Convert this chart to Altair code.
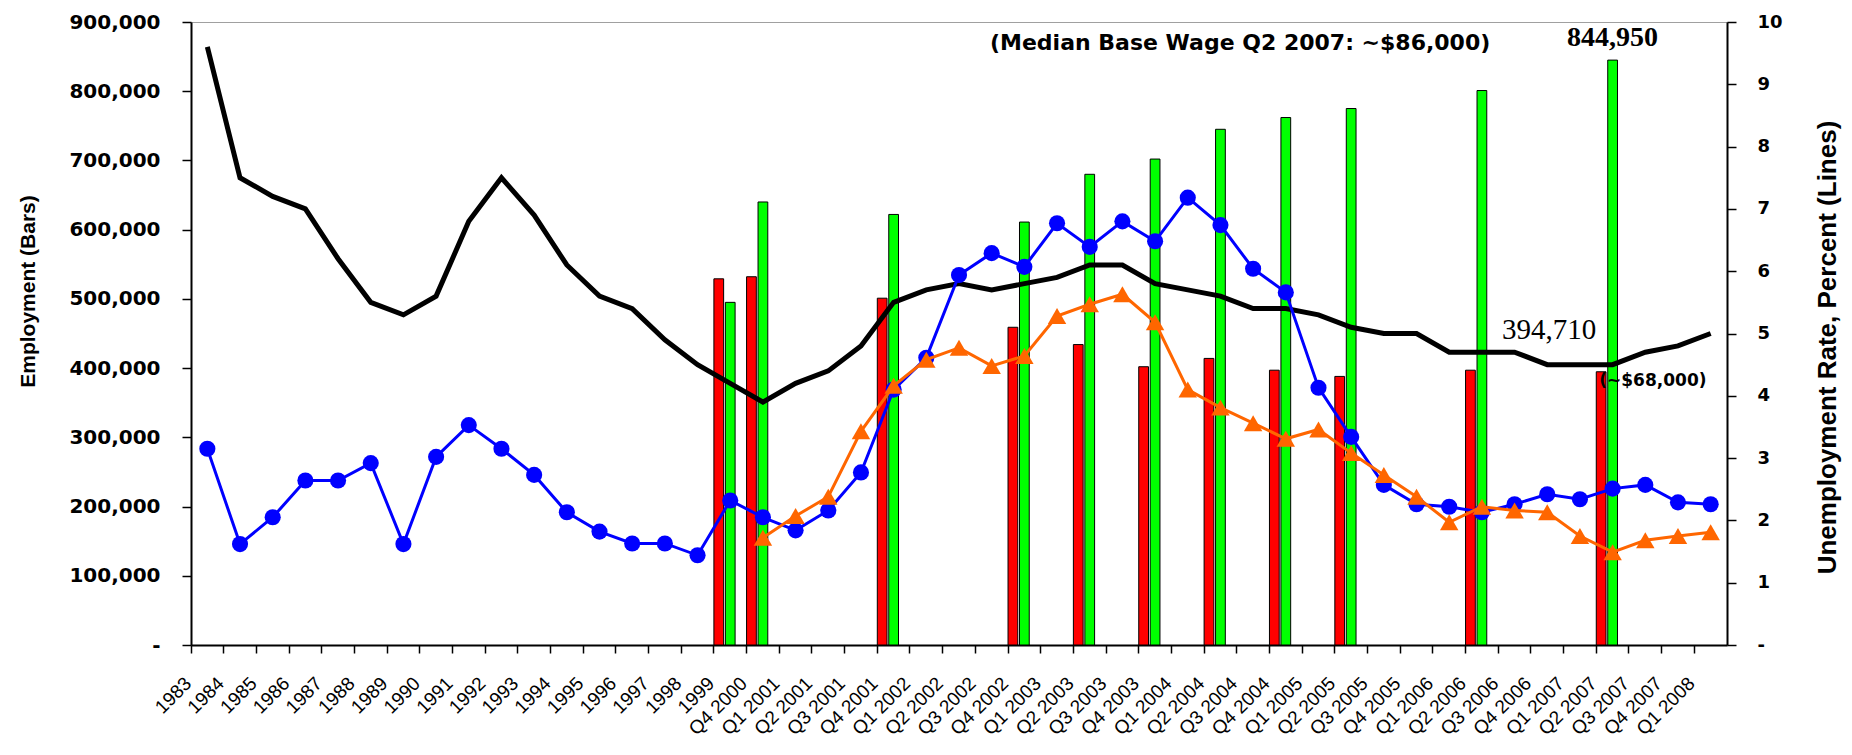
import altair as alt
import pandas as pd

categories = [str(y) for y in range(1983, 2000)] + ["Q4 2000"] + [
    f"Q{q} {y}" for y in range(2001, 2008) for q in range(1, 5)
] + ["Q1 2008"]

black_rate = [9.6, 7.5, 7.2, 7.0, 6.2, 5.5, 5.3, 5.6, 6.8, 7.5, 6.9, 6.1, 5.6, 5.4, 4.9, 4.5, 4.2,
              3.9, 4.2, 4.4, 4.8, 5.5, 5.7, 5.8, 5.7, 5.8, 5.9, 6.1, 6.1, 5.8, 5.7, 5.6, 5.4, 5.4,
              5.3, 5.1, 5.0, 5.0, 4.7, 4.7, 4.7, 4.5, 4.5, 4.5, 4.7, 4.8, 5.0]

blue_rate = [3.15, 1.62, 2.05, 2.64, 2.64, 2.92, 1.62, 3.02, 3.53, 3.15, 2.73, 2.13, 1.82, 1.63,
             1.63, 1.44, 2.32, 2.05, 1.84, 2.16, 2.77, 4.10, 4.61, 5.94, 6.29, 6.07, 6.77, 6.39,
             6.80, 6.48, 7.18, 6.74, 6.04, 5.66, 4.13, 3.34, 2.57, 2.26, 2.22, 2.13, 2.26, 2.42,
             2.34, 2.51, 2.57, 2.29, 2.26]

orange_start = "Q4 2000"
orange_rate = [1.72, 2.07, 2.38, 3.43, 4.16, 4.58, 4.77, 4.48, 4.64, 5.28, 5.47, 5.63, 5.18, 4.10,
               3.81, 3.56, 3.31, 3.46, 3.08, 2.73, 2.38, 1.97, 2.22, 2.16, 2.13, 1.75, 1.49, 1.68,
               1.75, 1.81]

bar_cats = ["1999", "Q4 2000", "Q4 2001", "Q4 2002", "Q2 2003", "Q4 2003", "Q2 2004", "Q4 2004",
            "Q2 2005", "Q2 2006", "Q2 2007"]
red_emp = [529000, 532000, 501000, 459000, 434000, 402000, 414000, 397000, 388000, 397000, 394710]
green_emp = [495000, 640000, 622000, 611000, 680000, 702000, 745000, 762000, 775000, 801000, 844950]

# ---- tables ----
bars = pd.DataFrame(
    [{"cat": c, "series": "red", "value": v} for c, v in zip(bar_cats, red_emp)]
    + [{"cat": c, "series": "green", "value": v} for c, v in zip(bar_cats, green_emp)]
)
black_df = pd.DataFrame({"cat": categories, "rate": black_rate})
blue_df = pd.DataFrame({"cat": categories, "rate": blue_rate})
o0 = categories.index(orange_start)
orange_df = pd.DataFrame({"cat": categories[o0:o0 + len(orange_rate)], "rate": orange_rate})

xscale = alt.Scale(domain=categories, paddingInner=0, paddingOuter=0)
xaxis = alt.Axis(
    title=None, labelAngle=-45, labelAlign="right", labelBaseline="middle",
    labelFont="Liberation Sans", labelFontSize=19, labelColor="#000000",
    labelOverlap=False, labelPadding=27, labelOffset=-19, bandPosition=0, tickSize=8,
    tickColor="#000000", tickWidth=1.5, domainColor="#000000", domainWidth=2,
    labelBound=False, labelFlush=False,
)

left_axis = alt.Axis(
    title="Employment (Bars)", values=list(range(0, 900001, 100000)),
    labelExpr="datum.value == 0 ? '-' : format(datum.value, ',')",
    labelFont="DejaVu Sans", labelFontWeight="bold", labelFontSize=20, labelColor="#000000",
    labelPadding=22, tickSize=9, tickColor="#000000", tickWidth=1.5,
    domainColor="#000000", domainWidth=2, grid=False,
    titleFont="Liberation Sans", titleFontWeight="bold", titleFontSize=21, titleColor="#000000",
    titleAngle=270, titleX=-163, titleY=269, titleAlign="center", titleBaseline="middle",
)
right_axis = alt.Axis(
    orient="right", title="Unemployment Rate, Percent (Lines)", values=list(range(0, 11)),
    labelExpr="datum.value == 0 ? '-' : format(datum.value, 'd')",
    labelFont="DejaVu Sans", labelFontWeight="bold", labelFontSize=18, labelColor="#000000",
    labelPadding=21, tickSize=9, tickColor="#000000", tickWidth=1.5,
    domainColor="#000000", domainWidth=2, grid=False,
    titleFont="Liberation Sans", titleFontWeight="bold", titleFontSize=26, titleColor="#000000",
    titleAngle=270, titleX=100, titleY=325, titleAlign="center", titleBaseline="middle",
)

yleft = alt.Scale(domain=[0, 900000], nice=False)
yright = alt.Scale(domain=[0, 10], nice=False)

bar_layer = alt.Chart(bars).mark_bar(stroke="#000000", strokeWidth=1).encode(
    x=alt.X("cat:N", scale=xscale, axis=xaxis),
    xOffset=alt.XOffset("series:N", scale=alt.Scale(domain=["red", "green", "pad"], paddingInner=0.15, paddingOuter=0)),
    y=alt.Y("value:Q", scale=yleft, axis=left_axis),
    color=alt.Color("series:N", scale=alt.Scale(domain=["red", "green"], range=["#FF0000", "#00FF00"]), legend=None),
)

title_df = pd.DataFrame({"cat": ["Q3 2004"], "value": [869000], "label": ["(Median Base Wage Q2 2007: ~$86,000)"]})
title_layer = alt.Chart(title_df).mark_text(
    font="DejaVu Sans", fontWeight="bold", fontSize=22, color="#000000", dx=-13, baseline="middle"
).encode(x=alt.X("cat:N", scale=xscale), y=alt.Y("value:Q", scale=yleft), text="label:N")

green_top_df = pd.DataFrame({"cat": [bar_cats[-1]], "value": [green_emp[-1]], "label": [f"{green_emp[-1]:,}"]})
green_top = alt.Chart(green_top_df).mark_text(
    font="Liberation Serif", fontWeight="bold", fontSize=28, color="#000000", baseline="bottom", dy=-8
).encode(x=alt.X("cat:N", scale=xscale), y=alt.Y("value:Q", scale=yleft), text="label:N")

red_top_df = pd.DataFrame({"cat": [bar_cats[-1]], "value": [red_emp[-1]], "label": [f"{red_emp[-1]:,}"]})
red_top = alt.Chart(red_top_df).mark_text(
    font="Liberation Serif", fontSize=29, color="#000000", baseline="middle", align="right", dy=-42, dx=0
).encode(x=alt.X("cat:N", scale=xscale, bandPosition=0), y=alt.Y("value:Q", scale=yleft), text="label:N")

wage_df = pd.DataFrame({"cat": [bar_cats[-1]], "value": [red_emp[-1]], "label": ["(~$68,000)"]})
wage = alt.Chart(wage_df).mark_text(
    font="DejaVu Sans", fontWeight="bold", fontSize=17, color="#000000", baseline="middle", align="left", dy=9, dx=3
).encode(x=alt.X("cat:N", scale=xscale, bandPosition=0), y=alt.Y("value:Q", scale=yleft), text="label:N")

left = alt.layer(bar_layer, title_layer, green_top, red_top, wage)

black_line = alt.Chart(black_df).mark_line(color="#000000", strokeWidth=5).encode(
    x=alt.X("cat:N", scale=xscale),
    y=alt.Y("rate:Q", scale=yright, axis=right_axis),
)
blue_line = alt.Chart(blue_df).mark_line(
    color="#0000FF", strokeWidth=3,
    point=alt.OverlayMarkDef(filled=True, shape="circle", size=260, color="#0000FF"),
).encode(x=alt.X("cat:N", scale=xscale), y=alt.Y("rate:Q", scale=yright))
orange_line = alt.Chart(orange_df).mark_line(
    color="#FF6600", strokeWidth=3,
    point=alt.OverlayMarkDef(filled=True, shape="triangle-up", size=340, color="#FF6600"),
).encode(x=alt.X("cat:N", scale=xscale), y=alt.Y("rate:Q", scale=yright))

right = alt.layer(black_line, blue_line, orange_line)

chart = alt.layer(left, right).resolve_scale(y="independent").properties(
    width=1536, height=623,
    autosize=alt.AutoSizeParams(type="none"),
    padding={"left": 183, "top": 14, "right": 117, "bottom": 98},
    background="#FFFFFF",
).configure_view(stroke="#A0A0A0", strokeWidth=1)

chart.save("out.html", embed_options={"renderer": "svg", "actions": False})
